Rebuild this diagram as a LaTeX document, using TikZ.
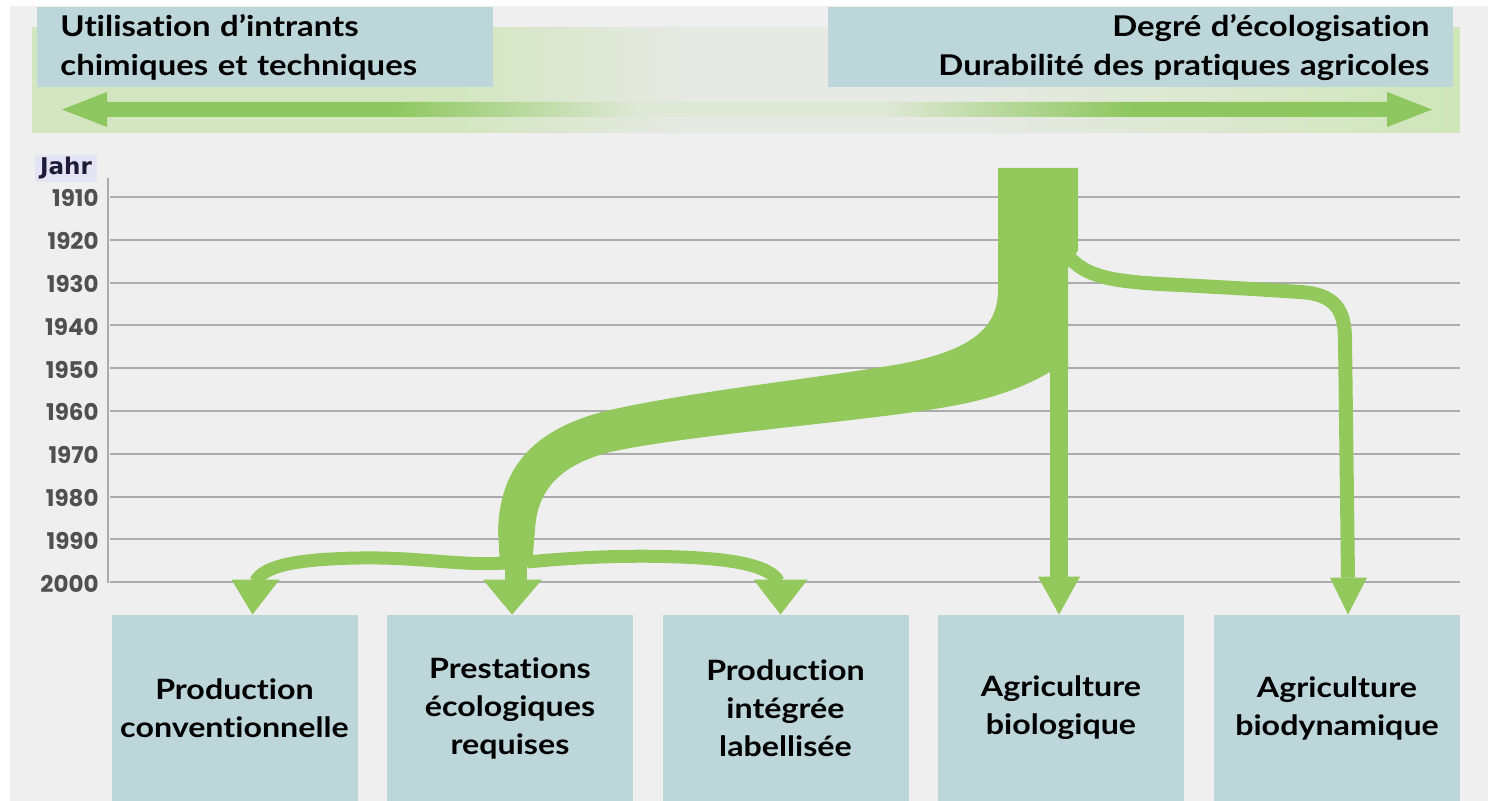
\documentclass[tikz,border=0pt]{standalone}
\usepackage{fontspec}
\usetikzlibrary{calc}
\newfontfamily\labelfont{Lato}[FakeStretch=1.15, Ligatures=NoCommon]
\newfontfamily\yearfont{Poppins}
\newfontfamily\jahrfont{DejaVu Sans}

\definecolor{bgfill}{HTML}{EFEFEF}
\definecolor{boxfill}{HTML}{BDD6DA}
\definecolor{flowgreen}{HTML}{93C85D}
\definecolor{bandgreen}{HTML}{D3E6C1}
\definecolor{bandpale}{HTML}{E7E9E4}
\definecolor{bandright}{HTML}{CFE6B9}
\definecolor{arrowgreen}{HTML}{8EC75F}
\definecolor{arrowpale}{HTML}{DFE8D6}
\definecolor{gridgray}{HTML}{ABABAB}
\definecolor{yeargray}{HTML}{505050}
\definecolor{jahrbg}{HTML}{E4E4F4}
\definecolor{jahrtext}{HTML}{1C1C38}

% horizontal fades for the top band and the double arrow
\pgfdeclarehorizontalshading{bandfade}{100bp}{color(0bp)=(bandgreen); color(40bp)=(bandgreen); color(48bp)=(bandpale); color(58bp)=(bandpale); color(75bp)=(bandright); color(100bp)=(bandright)}
\pgfdeclarehorizontalshading{arrowfade}{100bp}{color(0bp)=(arrowgreen); color(37bp)=(arrowgreen); color(46bp)=(arrowpale); color(55bp)=(arrowpale); color(64bp)=(arrowgreen); color(100bp)=(arrowgreen)}

\tikzset{
  headbox/.style={rectangle, fill=boxfill, anchor=north west, inner ysep=0pt,
    minimum height=40pt, font=\labelfont\bfseries\fontsize{14.3}{19.5}\selectfont},
  outbox/.style={rectangle, fill=boxfill, minimum width=123pt, minimum height=93pt,
    text width=121pt, inner sep=0pt, align=center,
    font=\labelfont\bfseries\fontsize{14}{19}\selectfont},
  gridline/.style={draw=gridgray, line width=1pt},
  yearlbl/.style={font=\yearfont\bfseries\fontsize{11.5}{13}\selectfont, text=yeargray, inner sep=0pt},
  flow/.style={fill=flowgreen},
  bdline/.style={draw=flowgreen, line width=7pt},
  sideline/.style={draw=flowgreen, line width=6.5pt},
  biostem/.style={draw=flowgreen, line width=9pt},
}

\begin{document}
\begin{tikzpicture}[x=0.5pt,y=-0.5pt]
\useasboundingbox (0,0) rectangle (1488,801);

% background
\fill[white] (0,0) rectangle (1488,801);
\fill[bgfill] (10,6) rectangle (1488,801);

% top band and double arrow
\shade[shading=bandfade] (32,28) rectangle (1460,133);
\shade[shading=arrowfade] (62,109.5) -- (107,92) -- (107,102) -- (1387,102) -- (1387,92)
  -- (1432,109.5) -- (1387,127) -- (1387,117) -- (107,117) -- (107,127) -- cycle;

% header boxes
\node[headbox, minimum width=228pt, text width=205pt, inner xsep=11.5pt, align=left]
  (inputs) at (37,7) {Utilisation d’intrants\\chimiques et techniques};
\node[headbox, minimum width=312.5pt, text width=288.5pt, inner xsep=12pt, align=right]
  (ecology) at (828,7) {Degré d’écologisation\\Durabilité des pratiques agricoles};

% year axis and grid
\node[fill=jahrbg, minimum width=31pt, minimum height=13.5pt, inner sep=0pt,
  font=\jahrfont\bfseries\fontsize{11.5}{13}\selectfont, text=jahrtext] (jahr) at (66,168.5) {Jahr};
\foreach \yr [count=\i from 0] in {1910,1920,1930,1940,1950,1960,1970,1980,1990,2000} {
  \pgfmathsetmacro\yy{197+42.8*\i}
  \draw[gridline] (110,\yy) -- (1460,\yy);
  \node[yearlbl, anchor=base east] (yr\yr) at (99,\yy+10) {\yr};
}
\draw[gridline] (108,178) -- (108,583);

% destination boxes
\node[outbox] (conv) at (234.5,708) {Production\\conventionnelle};
\node[outbox] (per)  at (510,708)   {Prestations\\écologiques\\requises};
\node[outbox] (ip)   at (785.5,708) {Production\\intégrée\\labellisée};
\node[outbox] (bio)  at (1061,708)  {Agriculture\\biologique};
\node[outbox] (bd)   at (1337,708)  {Agriculture\\biodynamique};

% arrow tips on the boxes
\coordinate (tconv) at ($(conv.north)+(18,0)$);
\coordinate (tper)  at ($(per.north)+(2,0)$);
\coordinate (tip)   at ($(ip.north)+(-5,0)$);
\coordinate (tbio)  at ($(bio.north)+(-2,0)$);
\coordinate (tbd)   at ($(bd.north)+(11,0)$);

% main trunk and the broad sweep towards the middle
\fill[flow] (998,168) -- (1078,168) -- (1078,250) .. controls (1074,258) and (1070,262) .. (1068,268)
  -- (1068,372) -- (1050,372)
  .. controls (1005,398) and (960,406) .. (900,414)
  .. controls (800,427) and (680,437) .. (610,452)
  .. controls (560,465) and (537,490) .. (535,530)
  -- (532,566) -- (500,566) -- (498,530)
  .. controls (500,475) and (525,430) .. (610,410)
  .. controls (700,390) and (820,378) .. (900,364)
  .. controls (968,351) and (998,330) .. (998,290) -- cycle;
\fill[flow] (505,560) rectangle (527,582);

% branch to biodynamic farming
\draw[bdline] (1068,256) .. controls (1085,276) and (1110,281) .. (1160,284)
  .. controls (1220,287) and (1270,290) .. (1300,292)
  .. controls (1335,294) and (1345,310) .. (1345,340) -- ($(tbd)+(0,-37)$);

% stem to organic farming
\draw[biostem] (1059,260) -- ($(tbio)+(0,-38)$);

% side branches near 1995
\draw[sideline] (505,563) .. controls (460,566) and (420,557) .. (360,558)
  .. controls (300,559) and (264,565) .. ($(tconv)+(3,-33)$);
\draw[sideline] (527,562) .. controls (580,557) and (630,555) .. (680,557)
  .. controls (735,559) and (770,566) .. ($(tip)+(-2,-33)$);

% arrowheads
\fill[flow] (tconv) -- ($(tconv)+(-21,-35)$) -- ($(tconv)+(27,-35)$) -- cycle;
\fill[flow] (tper)  -- ($(tper)+(-29,-35)$)  -- ($(tper)+(30,-35)$)  -- cycle;
\fill[flow] (tip)   -- ($(tip)+(-27,-35)$)   -- ($(tip)+(27,-35)$)   -- cycle;
\fill[flow] (tbio)  -- ($(tbio)+(-21,-38)$)  -- ($(tbio)+(21,-38)$)  -- cycle;
\fill[flow] (tbd)   -- ($(tbd)+(-18,-37)$)   -- ($(tbd)+(19,-37)$)   -- cycle;
\end{tikzpicture}
\end{document}
